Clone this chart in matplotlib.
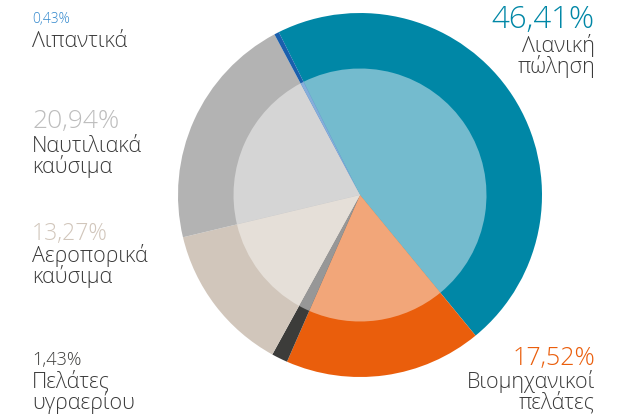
import matplotlib
matplotlib.use("Agg")
from matplotlib import pyplot as plt

# --- data ---
labels = ["Λιανική\nπώληση", "Βιομηχανικοί\nπελάτες", "Πελάτες\nυγραερίου",
          "Αεροπορικά\nκαύσιμα", "Ναυτιλιακά\nκαύσιμα", "Λιπαντικά"]
shares = [46.41, 17.52, 1.43, 13.27, 20.94, 0.43]
outer_colors = ["#0087a6", "#ea5e0c", "#3c3c3a", "#d1c6bb", "#b3b3b3", "#1a5fad"]
inner_colors = ["#74bbce", "#f2a679", "#979797", "#e5dfd8", "#d5d5d5", "#86aedb"]
pct_colors = ["#0087a6", "#ea5e0c", "#3c3c3a", "#d1c6bb", "#bdbdbd", "#2f86cc"]

W, H = 626, 420
plt.rcParams["font.family"] = ["Open Sans", "DejaVu Sans"]

fig = plt.figure(figsize=(W / 100, H / 100), dpi=100)

# pie centre and radius in pixels
cx, cy, r = 360, 195, 182
ax = fig.add_axes([(cx - r) / W, (H - cy - r) / H, 2 * r / W, 2 * r / H])
ax.pie(shares, colors=outer_colors, startangle=116.5, counterclock=False,
       radius=1.0, wedgeprops=dict(linewidth=0))
ax.pie(shares, colors=inner_colors, startangle=116.5, counterclock=False,
       radius=0.695, wedgeprops=dict(linewidth=0))
ax.set_xlim(-1, 1)
ax.set_ylim(-1, 1)
ax.set_aspect("equal")
ax.axis("off")


def put(x, y, s, size, color, ha="left"):
    fig.text(x / W, 1 - y / H, s, fontsize=size, color=color, ha=ha,
             va="baseline", fontweight="light")


def pct(v):
    return f"{v:.2f}".replace(".", ",") + "%"


# (x, pct baseline, label baseline, pct size, align)
layout = [
    (595, 28, 52, 22.5, "right"),
    (595, 365, 388, 18, "right"),
    (32, 365, 388, 13, "left"),
    (32, 240, 262, 16.5, "left"),
    (32, 128, 152, 19, "left"),
    (32, 23, 47, 10, "left"),
]

for (x, yp, yl, ps, ha), lab, v, pc in zip(layout, labels, shares, pct_colors):
    put(x, yp, pct(v), ps, pc, ha)
    first, *rest = lab.split("\n")
    put(x, yl, first, 15.5, "#3a3a3a", ha)
    for i, line in enumerate(rest):
        put(x, yl + 21 * (i + 1), line, 15.5, "#3a3a3a", ha)

fig.savefig("out.png", dpi=100)
